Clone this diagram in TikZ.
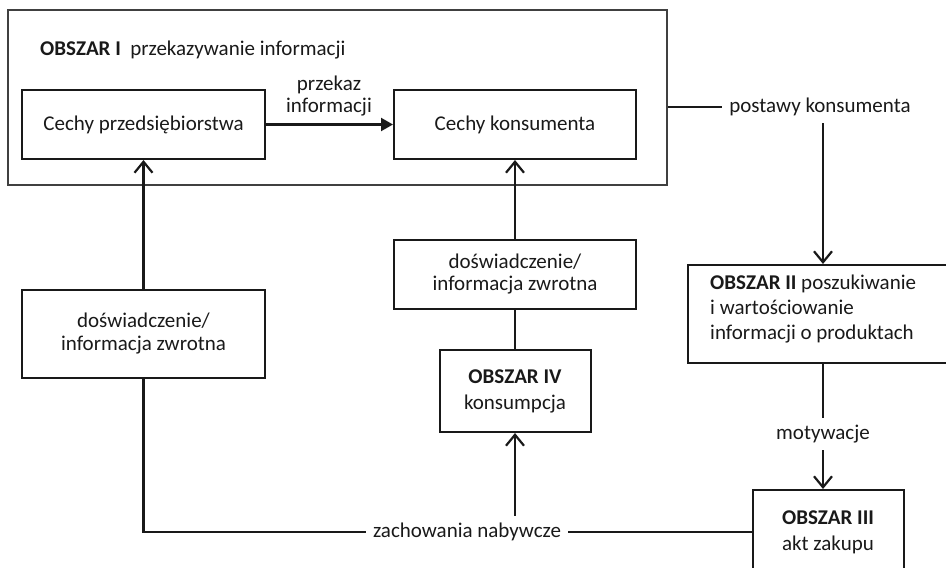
\documentclass[tikz,border=0pt]{standalone}
\usepackage{fontspec}
\setmainfont{Carlito}
\usetikzlibrary{arrows.meta}
\begin{document}
\begin{tikzpicture}[x=1pt,y=-1pt,
  every node/.style={font=\fontsize{21}{23}\selectfont, text=black!90},
  box/.style={draw=black!90, line width=2pt, align=center, inner sep=0pt},
  lbl/.style={inner sep=7pt, align=center},
  conn/.style={line width=2.2pt, draw=black!90},
  oarr/.style={conn, -{Straight Barb[length=11pt,width=18pt]}},
  farr/.style={conn, -{Triangle[length=12pt,width=13pt]}},
]
\useasboundingbox (0,0) rectangle (946,568);
\clip (0,0) rectangle (946,568);
\node[draw=black!75, line width=1.8pt, minimum width=659pt, minimum height=175pt, inner sep=0pt] (o1) at (337.5,97.5) {};
\node[anchor=base west, inner sep=0pt] (t1) at (40,55) {\textbf{OBSZAR I}\hspace{0.45em}przekazywanie informacji};
\node[box, minimum width=243pt, minimum height=69pt] (cp) at (143.5,124.5) {Cechy przedsiębiorstwa};
\node[box, minimum width=242pt, minimum height=69pt] (ck) at (515,124.5) {Cechy konsumenta};
\draw[farr] (cp) -- (ck);
\node[align=center, inner sep=0pt, font=\fontsize{21}{22}\selectfont] (pi) at (329,96) {przekaz\\informacji};
\node[box, minimum width=243pt, minimum height=88pt, font=\fontsize{21}{23}\selectfont] (ld) at (143.5,334) {doświadczenie/\\informacja zwrotna};
\node[box, minimum width=242pt, minimum height=69pt, font=\fontsize{21}{22}\selectfont] (md) at (515,274.5) {doświadczenie/\\informacja zwrotna};
\node[box, minimum width=151pt, minimum height=82pt, font=\fontsize{21}{26}\selectfont] (o4) at (515,391) {\textbf{OBSZAR IV}\\konsumpcja};
\node[box, minimum width=280pt, minimum height=98pt, anchor=north west] (o2) at (687,264) {};
\node[anchor=west, inner sep=0pt, align=left, font=\fontsize{21}{25}\selectfont] (o2t) at (710,309) {\textbf{OBSZAR II} poszukiwanie\\i wartościowanie\\informacji o produktach};
\node[box, minimum width=151pt, minimum height=110pt, anchor=north west] (o3) at (752,489) {};
\node[align=center, inner sep=0pt, font=\fontsize{21}{26}\selectfont] (o3t) at (828,532) {\textbf{OBSZAR III}\\akt zakupu};
\node[lbl] (pk) at (820,107) {postawy konsumenta};
\node[lbl] (mo) at (823,434) {motywacje};
\node[lbl] (zn) at (467,532) {zachowania nabywcze};
\draw[conn] (o1.east |- pk) -- (pk.west);
\draw[oarr] (pk.south -| mo.north) -- (o2.north -| mo.north);
\draw[conn] (o2.south -| mo.north) -- (mo.north);
\draw[oarr] (mo.south) -- (o3.north -| mo.south);
\draw[conn] (o3.west |- zn) -- (zn.east);
\draw[conn] (zn.west) -| (ld.south);
\draw[oarr] (ld.north) -- (cp.south);
\draw[oarr] (zn.north -| o4.south) -- (o4.south);
\draw[conn] (o4.north) -- (md.south);
\draw[oarr] (md.north) -- (ck.south);
\end{tikzpicture}
\end{document}
